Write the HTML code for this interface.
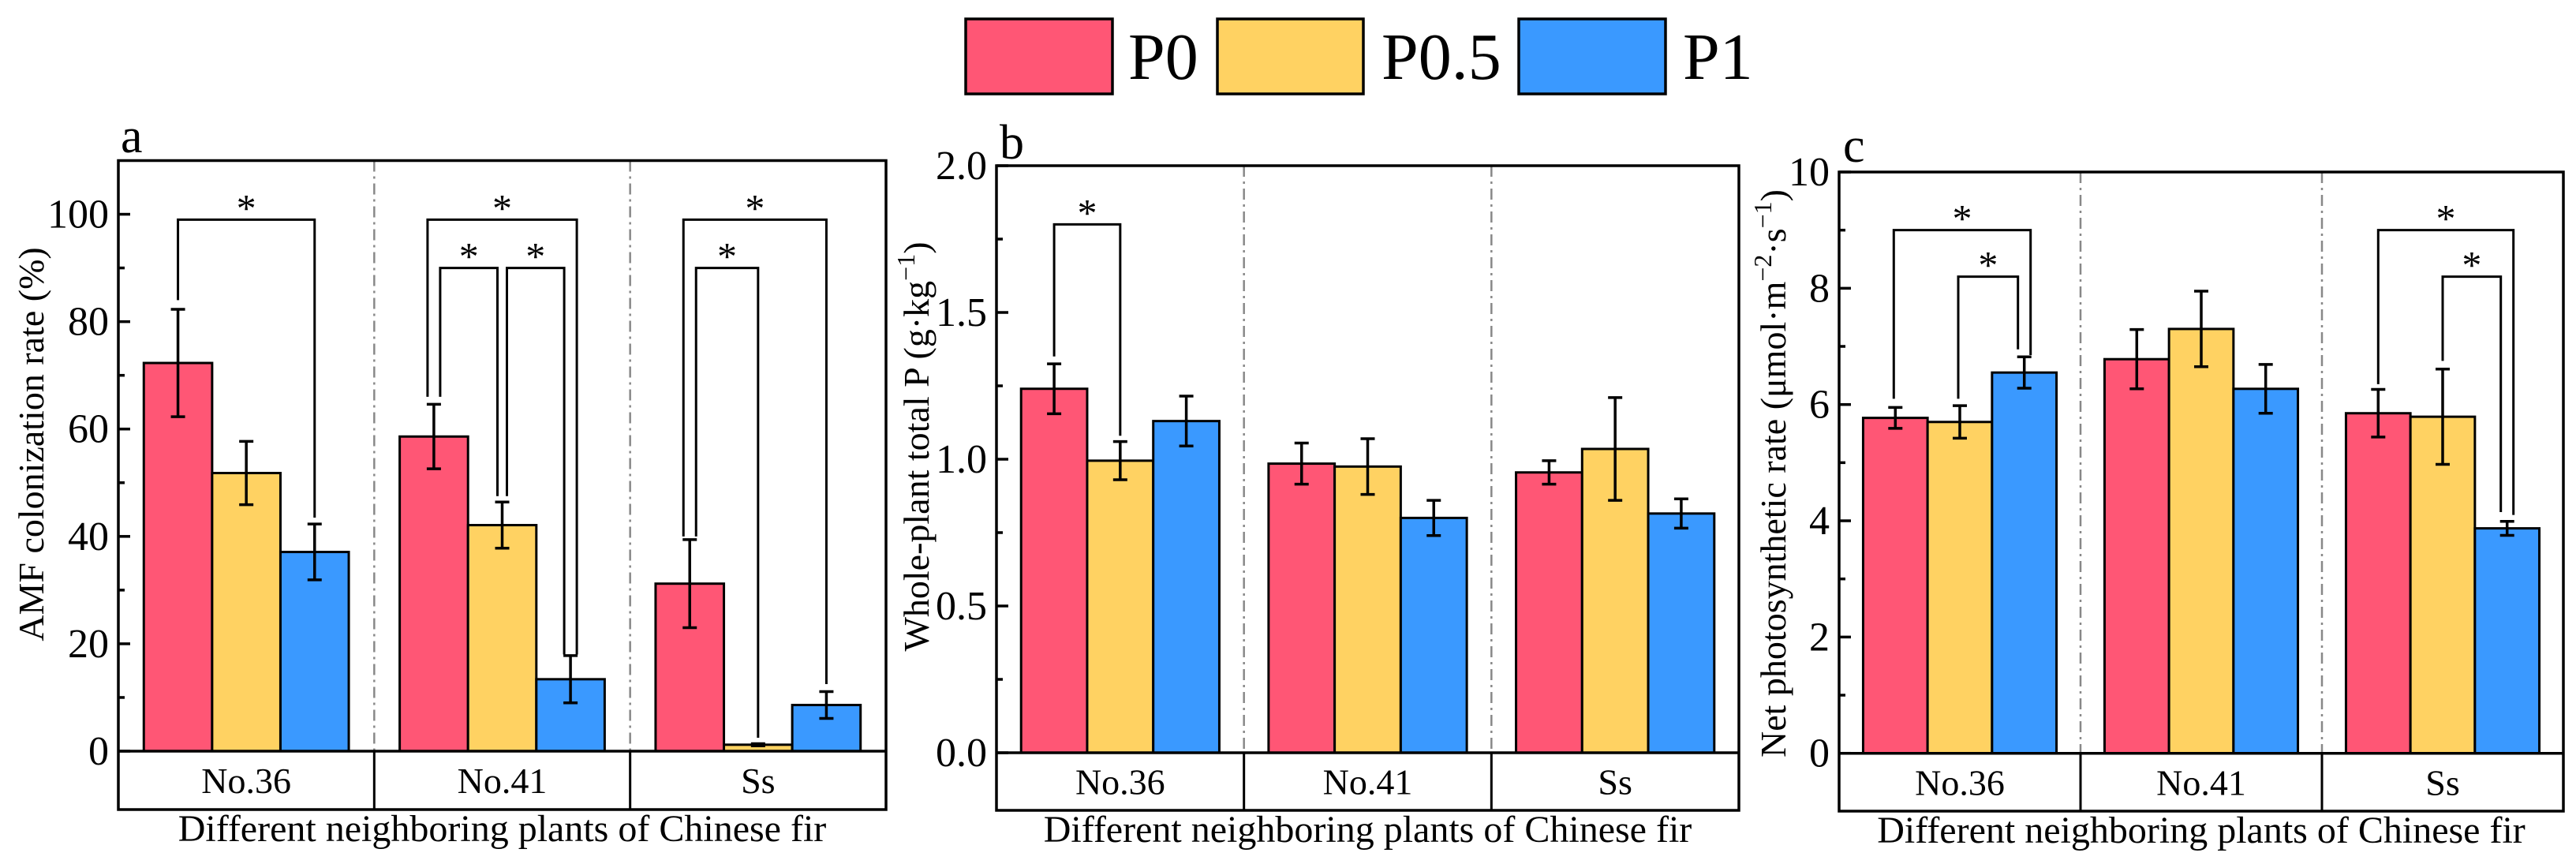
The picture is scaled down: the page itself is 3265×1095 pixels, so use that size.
<!DOCTYPE html>
<html><head><meta charset="utf-8"><style>
html,body{margin:0;padding:0;background:#fff;}
svg{display:block;}
svg text{font-family:"Liberation Serif","DejaVu Serif",serif;}
</style></head><body>
<svg id="fig" width="3265" height="1095" viewBox="0 0 3265 1095" xmlns="http://www.w3.org/2000/svg" font-family="Liberation Serif, serif">
<g>
<rect x="1224" y="24" width="186" height="95" fill="#FF5675" stroke="#000" stroke-width="3.5"/>
<text x="1430" y="100" font-size="84" font-family="Liberation Serif, serif">P0</text>
<rect x="1543" y="24" width="185" height="95" fill="#FFD262" stroke="#000" stroke-width="3.5"/>
<text x="1751" y="100" font-size="84" font-family="Liberation Serif, serif">P0.5</text>
<rect x="1925" y="24" width="186" height="95" fill="#3A99FF" stroke="#000" stroke-width="3.5"/>
<text x="2133" y="100" font-size="84" font-family="Liberation Serif, serif">P1</text>
</g>
</svg>
<script>
const categories = ["No.36","No.41","Ss"];
const seriesNames = ["P0","P0.5","P1"];
const colors = ["#FF5675","#FFD262","#3A99FF"];

const aValues = [[72.3,51.8,37.1],[58.6,42.1,13.4],[31.2,1.2,8.6]];
const aErrors = [[10,5.9,5.2],[6,4.3,4.4],[8.2,0.2,2.5]];
const aTicks = [0,20,40,60,80,100];
// [group, fromBar, toBar, level, leftEnd, rightEnd, leftOffPx, rightOffPx]
const aSig = [[0,0,2,99,84,43.5,0,0],[1,0,2,99,66,18,-8,8],[1,0,1,90,66,47.5,8,-6],[1,1,2,90,47.5,18,6,-8],[2,0,2,99,40,12.5,-8,0],[2,0,1,90,40,2.5,8,0]];

const bValues = [[1.24,0.995,1.13],[0.985,0.975,0.80],[0.955,1.035,0.815]];
const bErrors = [[0.085,0.065,0.085],[0.07,0.095,0.06],[0.04,0.175,0.05]];
const bTicks = ["0.0","0.5","1.0","1.5","2.0"];
const bSig = [[0,0,1,1.80,1.35,1.08,0,0]];

const cValues = [[5.77,5.70,6.55],[6.78,7.30,6.27],[5.85,5.79,3.87]];
const cErrors = [[0.18,0.28,0.27],[0.51,0.65,0.42],[0.41,0.82,0.12]];
const cTicks = [0,2,4,6,8,10];
const cSig = [[0,0,2,9.0,6.1,6.85,-2,8],[0,1,2,8.2,6.1,6.95,-2,-8],[2,0,2,9.0,6.35,4.1,0,8],[2,1,2,8.2,6.75,4.15,0,-8]];

const NS="http://www.w3.org/2000/svg";
const svg=document.getElementById('fig');
const FF="Liberation Serif, serif";
function el(tag,attrs,parent){const e=document.createElementNS(NS,tag);for(const k in attrs)e.setAttribute(k,attrs[k]);if(tag==='text')e.setAttribute('font-family',FF);(parent||svg).appendChild(e);return e;}

function panel(p){
  const g=el('g',{});
  
  
  const ymax=p.ymax, y=v=>p.y0-(v/ymax)*(p.y0-p.top);
  const gw=(p.right-p.left)/3, bw=gw*0.267;
  const barX=(gi,bi)=>p.left+gi*gw+gw/2-1.5*bw+bi*bw;
  for(let i=1;i<3;i++){const s=el('line',{x1:p.left+i*gw,x2:p.left+i*gw,y1:p.top,y2:p.y0,stroke:'#888','stroke-width':2.5,'stroke-dasharray':'14,6,3,6'},g);
    
    const s2=el('line',{x1:p.left+i*gw,x2:p.left+i*gw,y1:p.y0,y2:p.bot,stroke:'#000','stroke-width':3},g);
    }
  for(let gi=0;gi<3;gi++)for(let bi=0;bi<3;bi++){
    const v=p.values[gi][bi],e=p.errors[gi][bi],x=barX(gi,bi);
    const r=el('rect',{x:x,y:y(v),width:bw,height:p.y0-y(v),fill:colors[bi],stroke:'#000','stroke-width':3},g);
    
    
    const cx=x+bw/2;
    const eb=el('path',{d:`M${cx} ${y(v+e)}V${y(v-e)}M${cx-9} ${y(v+e)}H${cx+9}M${cx-9} ${y(v-e)}H${cx+9}`,stroke:'#000','stroke-width':3.5,fill:'none'},g);
    
  }
  p.sig.forEach(s=>{
    const[gi,b1,b2,lv,le,re,lo,ro]=s;
    const x1=barX(gi,b1)+bw/2+lo,x2=barX(gi,b2)+bw/2+ro;
    const br=el('path',{d:`M${x1} ${y(le)}V${y(lv)}H${x2}V${y(re)}`,stroke:'#000','stroke-width':3,fill:'none'},g);
    
    const st=el('text',{x:(x1+x2)/2,y:y(lv)+2,'font-size':50,'text-anchor':'middle'},g);st.textContent='*';
    
  });
  const fr=el('rect',{x:p.left,y:p.top,width:p.right-p.left,height:p.bot-p.top,fill:'none',stroke:'#000','stroke-width':3.5},g);
  
  const bl=el('line',{x1:p.left,x2:p.right,y1:p.y0,y2:p.y0,stroke:'#000','stroke-width':3.5},g);
  
  p.ticks.forEach((t,i)=>{
    const v=parseFloat(t),ty=y(v);
    const tl=el('line',{x1:p.left,x2:p.left+15,y1:ty,y2:ty,stroke:'#000','stroke-width':3.5},g);
    
    const tx=el('text',{x:p.left-12,y:ty+17,'font-size':52,'text-anchor':'end'},g);tx.textContent=t;
    
    if(i<p.ticks.length-1){const mv=(v+parseFloat(p.ticks[i+1]))/2,my=y(mv);
      const ml=el('line',{x1:p.left,x2:p.left+8,y1:my,y2:my,stroke:'#000','stroke-width':3.5},g);
      }
  });
  categories.forEach((c,gi)=>{
    const t=el('text',{x:p.left+gi*gw+gw/2,y:(p.y0+p.bot)/2+16,'font-size':46,'text-anchor':'middle'},g);t.textContent=c;
    
  });
  const xt=el('text',{x:(p.left+p.right)/2,y:p.bot+40,'font-size':48,'text-anchor':'middle'},g);xt.textContent='Different neighboring plants of Chinese fir';
  
  const yt=el('text',{x:0,y:0,'font-size':46,'text-anchor':'middle',transform:`translate(${p.ytX},${p.ytY}) rotate(-90)`},g);yt.innerHTML=p.ytitle;
  
  const lt=el('text',{x:p.lx,y:p.ly,'font-size':62},g);lt.textContent=p.id;
  
}
panel({id:'a',left:150,right:1123,top:203.5,y0:952,bot:1026,ymax:110,values:aValues,errors:aErrors,ticks:aTicks,sig:aSig,
  ytitle:'AMF colonization rate (%)',ytX:55,ytY:563,lx:153,ly:193});
panel({id:'b',left:1263,right:2204,top:210,y0:954,bot:1027,ymax:2.0,values:bValues,errors:bErrors,ticks:bTicks,sig:bSig,
  ytitle:'Whole-plant total P (g·kg<tspan dy="-18" font-size="32">−1</tspan><tspan dy="18">)</tspan>',ytX:1177,ytY:566,lx:1267,ly:201});
panel({id:'c',left:2331,right:3249,top:218,y0:954.7,bot:1028,ymax:10,values:cValues,errors:cErrors,ticks:cTicks,sig:cSig,
  ytitle:'Net photosynthetic rate (μmol·m<tspan dy="-18" font-size="32">−2</tspan><tspan dy="18">·s</tspan><tspan dy="-18" font-size="32">−1</tspan><tspan dy="18">)</tspan>',ytX:2263,ytY:600,lx:2336,ly:205});
</script>
</body></html>
